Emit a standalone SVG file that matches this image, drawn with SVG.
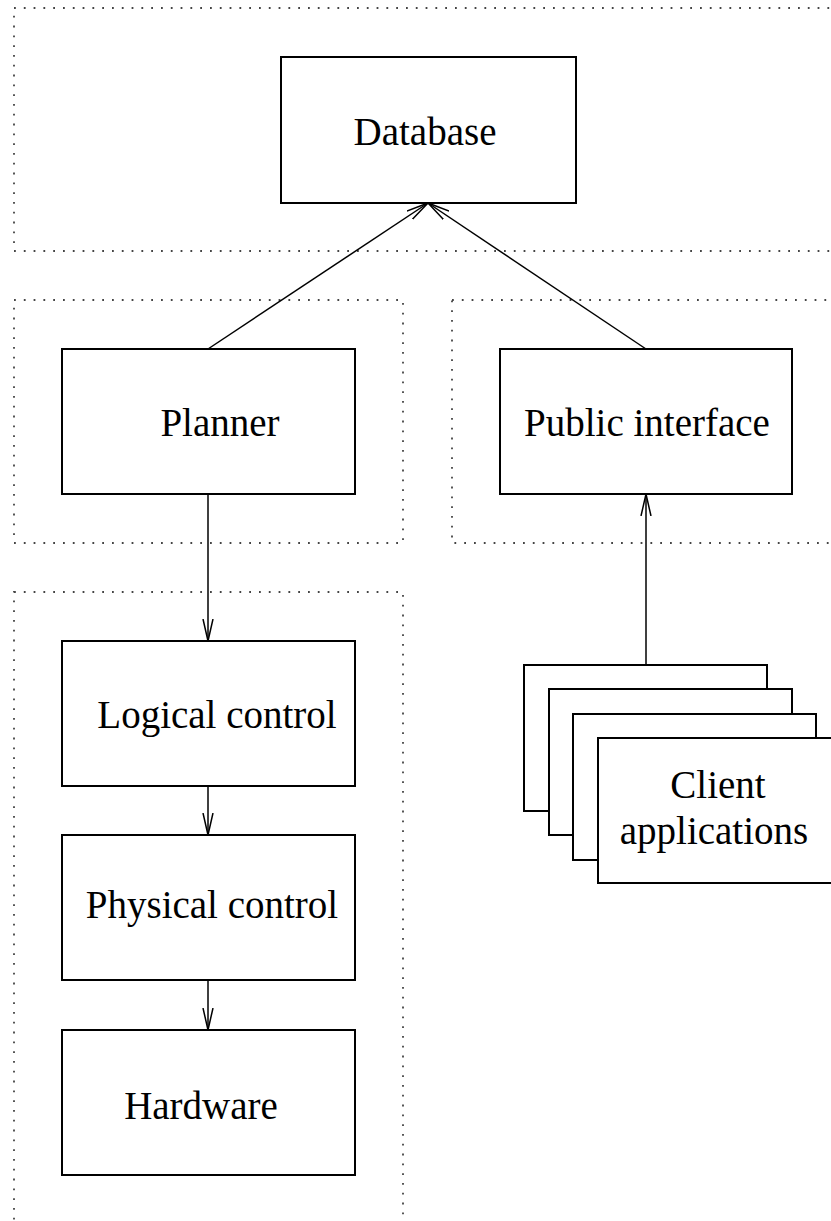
<svg xmlns="http://www.w3.org/2000/svg" width="831" height="1221" viewBox="0 0 831 1221">
<style>
.frame{fill:none;stroke:#444;stroke-width:1.8;stroke-dasharray:1.8 8}
.box{fill:#fff;stroke:#000;stroke-width:2}
.lbl{font-family:"Liberation Serif","Times New Roman",serif;font-size:39px;fill:#000;text-anchor:middle}
.con{fill:none;stroke:#000;stroke-width:1.5}
</style>
<defs>
<marker id="arr" viewBox="0 0 22 12" refX="22" refY="6" markerWidth="22" markerHeight="12" markerUnits="userSpaceOnUse" orient="auto">
<path d="M0,1 L22,6 L0,11" fill="none" stroke="#000" stroke-width="1.5"/>
</marker>
</defs>
<rect width="831" height="1221" fill="#fff"/>
<g id="frames">
<rect class="frame" x="14" y="8" width="830" height="243"/>
<rect class="frame" x="14" y="300" width="389" height="243"/>
<rect class="frame" x="452" y="300" width="400" height="243"/>
<rect class="frame" x="14" y="592" width="389" height="650"/>
</g>
<g id="connectors">
<line class="con" x1="208" y1="349" x2="428" y2="203" marker-end="url(#arr)"/>
<line class="con" x1="646" y1="349" x2="428" y2="203" marker-end="url(#arr)"/>
<line class="con" x1="208" y1="494" x2="208" y2="641" marker-end="url(#arr)"/>
<line class="con" x1="208" y1="786" x2="208" y2="835" marker-end="url(#arr)"/>
<line class="con" x1="208" y1="980" x2="208" y2="1030" marker-end="url(#arr)"/>
<line class="con" x1="646" y1="665" x2="646" y2="494" marker-end="url(#arr)"/>
</g>
<g id="database">
<rect class="box" x="281" y="57" width="295" height="146"/>
<text class="lbl" x="425" y="145">Database</text>
</g>
<g id="planner">
<rect class="box" x="62" y="349" width="293" height="145"/>
<text class="lbl" x="220" y="436">Planner</text>
</g>
<g id="public-interface">
<rect class="box" x="500" y="349" width="292" height="145"/>
<text class="lbl" x="647" y="436">Public interface</text>
</g>
<g id="logical-control">
<rect class="box" x="62" y="641" width="293" height="145"/>
<text class="lbl" x="217" y="728">Logical control</text>
</g>
<g id="physical-control">
<rect class="box" x="62" y="835" width="293" height="145"/>
<text class="lbl" x="212" y="918">Physical control</text>
</g>
<g id="hardware">
<rect class="box" x="62" y="1030" width="293" height="145"/>
<text class="lbl" x="201" y="1119">Hardware</text>
</g>
<g id="client-applications">
<rect class="box" x="524" y="665" width="243" height="146"/>
<rect class="box" x="549" y="689" width="243" height="146"/>
<rect class="box" x="573" y="714" width="243" height="146"/>
<rect class="box" x="598" y="738" width="243" height="145"/>
<text class="lbl" x="718" y="798">Client</text>
<text class="lbl" x="714" y="844">applications</text>
</g>
</svg>
